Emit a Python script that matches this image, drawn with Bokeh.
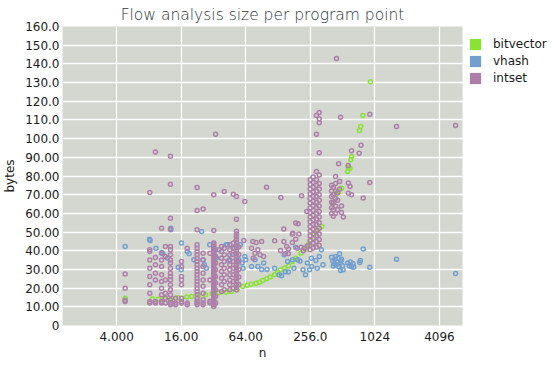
from bokeh.plotting import figure
from bokeh.models import FixedTicker, Legend, LegendItem
from bokeh.embed import file_html
from bokeh.resources import INLINE

title_text = "Flow analysis size per program point"
x_label = "n"
y_label = "bytes"
x_ticks = [4, 16, 64, 256, 1024, 4096]
x_tick_labels = ["4.000", "16.00", "64.00", "256.0", "1024", "4096"]
y_ticks = [0, 10, 20, 30, 40, 50, 60, 70, 80, 90, 100, 110, 120, 130, 140, 150, 160]
y_tick_labels = ["0", "10.00", "20.00", "30.00", "40.00", "50.00", "60.00", "70.00", "80.00",
                 "90.00", "100.0", "110.0", "120.0", "130.0", "140.0", "150.0", "160.0"]

series_names = ["bitvector", "vhash", "intset"]
series_colors = ["#8ae234", "#729fcf", "#ad7fa8"]

bitvector_n = [4.8, 8.6, 9.8, 11.2, 13, 15, 18, 20, 23.5, 27, 31, 36, 42, 47, 53, 60, 66, 72, 80, 86,
               92, 100, 108, 119, 127, 135, 147, 160, 174, 187, 209, 230, 245, 258, 277, 300, 327,
               414, 437, 450, 470, 501, 570, 577, 600, 612, 621, 735, 755, 792, 930]
bitvector_bytes = [14.6, 14.3, 14.2, 14.5, 14.5, 14.9, 15.2, 15.5, 16.2, 16.4, 17.0, 17.5, 17.8, 18.2,
                   19.1, 20.9, 21.5, 22.1, 22.6, 23.2, 24.1, 25.0, 26.0, 27.1, 28.4, 29.8, 30.8, 31.9,
                   34.2, 36.0, 38.7, 40.8, 43.2, 45.8, 48.5, 50.8, 53.0,
                   65.5, 68.2, 70.8, 71.7, 73.5, 82.4, 84.8, 84.2, 88.7, 90.4, 104.3, 106.5, 112.4, 130.4]

vhash_n = [4.8, 8.1, 8.2, 9.3, 10.5, 10.8, 11.9, 12.8, 12.8, 16.1, 15.0, 16.0, 18.2, 19.0, 24.8, 21,
           25.5, 26.3, 27.5, 29.5, 34, 36, 42, 43, 45, 44.5, 48, 50, 55, 57, 59,
           60.4, 62.7, 64, 72.5, 78, 83, 90, 94, 101, 119, 131, 146, 174, 180, 187,
           219, 231, 240, 252, 262, 264, 288, 297, 311, 325, 336, 138, 150, 157, 160, 195, 205,
           404, 415, 425, 435, 445, 455, 465, 480, 495, 510, 420, 440, 470, 500, 518, 480, 490,
           570, 590, 605, 620, 640, 650, 750, 740, 797, 918, 1630, 5790]
vhash_bytes = [42.3, 46.2, 45.5, 41.4, 39.1, 38.4, 36.1, 52.1, 51.2, 44.1, 31.2, 29.8, 39.6, 38.4, 50.3, 35.2,
               35.2, 32.5, 30.7, 43.2, 36.1, 40.5, 43.2, 43.2, 35.2, 34.6, 38.0, 41.5, 35.2, 43.2, 33.4,
               30.7, 36.9, 35.2, 31.6, 35.2, 31.6, 29.9, 33.4, 29.9, 30.7, 27.1, 37.8, 35.2, 30.7, 41.9,
               29.8, 27.1, 33.4, 29.8, 36.0, 31.6, 34.8, 30.7, 36.9, 40.5, 32.5, 26.6, 28.7, 34.2, 28.6, 35.2, 34.5,
               36.5, 34.5, 33.0, 35.5, 32.5, 34.0, 36.0, 33.0, 34.5, 32.0, 31.8, 36.9, 31.6, 35.5, 29.8, 38.4, 29.4,
               33.5, 32.0, 34.0, 31.5, 33.0, 31.2, 34.8, 33.7, 41.0, 31.2, 35.5, 27.8]

# intset: (n, [bytes ...]) columns
intset_columns = [
    (4.8, [12.8, 13.5, 20.0, 27.5]),
    (8.15, [12.0, 12.8, 17.3, 21.8, 26.2, 30.7, 35.1, 39.6, 40.5, 71.2]),
    (9.2, [12.0, 12.8, 24.4, 28.0, 32.5, 36.4, 92.8]),
    (10.5, [12.0, 12.8, 16.4, 20.0, 23.5, 27.1, 31.6, 35.1, 38.7, 52.1]),
    (11.4, [12.0, 14.6, 17.3, 24.4, 36.9, 42.3]),
    (12.7, [11.1, 12.0, 13.8, 16.4, 19.1, 21.8, 24.4, 26.2, 28.0, 30.7, 33.4, 35.1, 37.8, 40.5, 42.3,
            51.7, 57.4, 75.6, 90.6]),
    (14.2, [11.1, 12.0, 14.6]),
    (16.1, [12.0, 12.8, 14.6, 21.8, 24.4, 26.2, 31.6, 34.2]),
    (18.2, [11.1, 12.0, 41.4]),
    (22.5, [11.1, 12.0, 13.0, 14.6, 16.4, 18.2, 20.0, 21.8, 23.5, 25.3, 27.1, 28.9, 30.7, 32.5, 34.2,
            36.0, 37.8, 39.6, 41.4, 43.2, 51.2, 61.5, 73.8]),
    (25.6, [11.1, 12.0, 13.8, 17.3, 21.0, 24.4, 28.0, 31.6, 35.1, 38.7, 62.3]),
    (29.6, [12.0, 13.0, 24.4, 38.7]),
    (32.2, [10.2, 11.1, 12.0, 12.8, 13.8, 14.6, 15.5, 16.4, 17.3, 18.2, 19.1, 20.0, 21.0, 21.8, 22.7,
            23.5, 24.4, 25.3, 26.2, 27.1, 28.0, 28.9, 29.8, 30.7, 31.6, 32.5, 33.4, 34.2, 35.1, 36.0,
            36.9, 37.8, 38.7, 39.6, 40.5, 41.4, 42.3, 43.2, 44.1, 50.8, 69.9]),
    (33.5, [12.0, 15.5, 19.1, 22.7, 26.2, 29.8, 33.4, 37.0, 40.5, 102.4]),
    (38, [18.2, 21.8, 25.3, 28.9, 32.5, 36.0, 39.6, 42.3]),
    (40.3, [19.1, 23.5, 27.1, 30.7, 34.2, 37.8, 41.4, 71.7]),
    (45.4, [19.1, 21.8, 24.4, 27.1, 29.8, 32.5, 35.1, 37.8, 40.5, 43.2]),
    (49, [20.0, 23.5, 27.1, 30.7, 34.2, 38.0, 41.4, 44.1, 70.3]),
    (52.4, [19.1, 20.5, 22.0, 23.5, 25.0, 26.5, 28.0, 29.5, 31.0, 32.5, 34.0, 35.5, 37.0, 38.5, 40.0,
            41.5, 43.0, 44.5, 46.0, 47.5, 49.0, 50.5, 56.9, 69.0]),
    (55, [22.0, 26.0, 30.0, 34.0, 38.0, 42.0]),
    (61.5, [45.5]), (62.7, [66.3]), (72.5, [41.4]), (74.4, [45.0]), (78, [38.7]), (80, [44.4]),
    (83, [40.5]), (87, [37.8]), (90, [45.0]), (94, [36.9]), (75, [36.0]), (100, [74.0]),
    (119, [45.3]), (135, [40.1]), (136, [68.5]), (145, [45.0, 51.7]), (150, [38.4]), (154, [42.3]),
    (160, [40.9, 38.4]), (174, [44.4, 49.0]), (176, [49.4]), (187, [46.2, 54.8]), (193, [41.4]),
    (197, [54.4]), (200, [49.0]), (210, [41.9]), (212, [69.4]), (220, [40.0]), (225, [41.4]),
    (237, [61.0]), (240, [42.6]),
    (255, [40.5, 43.0, 45.5, 48.0, 50.5, 53.0, 55.5, 58.0, 60.5, 63.0, 65.5, 68.0, 70.5, 73.0, 75.5, 78.0]),
    (272, [41.5, 44.0, 46.5, 49.0, 51.5, 54.0, 56.5, 59.0, 61.5, 64.0, 66.5, 69.0, 71.5, 74.0, 76.5, 79.4]),
    (292, [42.0, 45.0, 48.0, 51.0, 54.0, 57.0, 60.0, 63.0, 66.0, 69.0, 72.0, 75.0, 78.0, 82.4, 102.4, 112.4]),
    (310, [43.0, 46.0, 49.0, 52.0, 55.0, 58.0, 61.0, 64.0, 67.0, 70.0, 73.0, 76.0, 80.6, 92.4,
           108.5, 110.6, 114.0]),
    (404, [60.0, 63.0, 66.0, 69.0, 72.0, 75.0]),
    (420, [58.5, 62.0, 65.5, 70.0, 74.0]),
    (440, [60.0, 64.0, 68.0, 72.0, 76.0, 79.7]),
    (449, [142.9]),
    (460, [62.0, 67.0, 71.0]),
    (470, [86.5]),
    (480, [73.0, 77.0]),
    (490, [111.5]),
    (500, [60.5, 64.0]),
    (520, [58.0]),
    (577, [85.6]), (580, [70.8, 76.2]), (600, [74.4]), (620, [69.9, 93.5]), (730, [92.2]), (760, [96.5]),
    (797, [68.2]), (918, [76.5, 113.1]), (1630, [106.5]), (5790, [107.0]),
]

intset_n = []
intset_bytes = []
for n_val, byte_vals in intset_columns:
    for b in byte_vals:
        intset_n.append(n_val)
        intset_bytes.append(b)

series_data = [(bitvector_n, bitvector_bytes), (vhash_n, vhash_bytes), (intset_n, intset_bytes)]

FONT = "DejaVu Sans"

p = figure(frame_width=400, frame_height=299, x_axis_type="log",
           x_range=(1.251, 6720), y_range=(0, 160),
           output_backend="svg", toolbar_location=None,
           min_border_left=0, min_border_right=0, min_border_top=0, min_border_bottom=0,
           background_fill_color="#d3d7cf", border_fill_color="white",
           title=title_text)
p.outline_line_color = None

p.title.text_font = "DejaVu Sans Light, DejaVu Sans"
p.title.text_font_size = "15.5px"
p.title.text_font_style = "normal"
p.title.text_color = "#2e3436"
p.title.align = "center"
p.title.standoff = 6

p.xaxis.ticker = FixedTicker(ticks=x_ticks)
p.xaxis.major_label_overrides = dict(zip(x_ticks, x_tick_labels))
p.yaxis.ticker = FixedTicker(ticks=y_ticks)
p.yaxis.major_label_overrides = dict(zip(y_ticks, y_tick_labels))

for ax in (p.xaxis, p.yaxis):
    ax.axis_line_color = None
    ax.major_tick_line_color = None
    ax.minor_tick_line_color = None
    ax.major_tick_out = 0
    ax.major_tick_in = 0
    ax.major_label_text_font = FONT
    ax.major_label_text_font_size = "12px"
    ax.major_label_text_color = "#1a1a1a"
    ax.axis_label_text_font = FONT
    ax.axis_label_text_font_size = "12px"
    ax.axis_label_text_font_style = "normal"
    ax.axis_label_text_color = "#1a1a1a"

p.xaxis.axis_label = x_label
p.yaxis.axis_label = y_label
p.xaxis.major_label_standoff = 6
p.xaxis.axis_label_standoff = 2
p.yaxis.major_label_standoff = 3
p.yaxis.axis_label_standoff = 5

p.xgrid.grid_line_color = "white"
p.ygrid.grid_line_color = "white"
p.xgrid.grid_line_width = 1.3
p.ygrid.grid_line_width = 1.3
p.xgrid.minor_grid_line_color = None
p.ygrid.minor_grid_line_color = None

for (xs, ys), color in zip(series_data, series_colors):
    p.scatter(xs, ys, marker="circle", size=4, fill_color=None, line_color=color, line_width=1.5)

# legend swatches: hidden zero-size quads (at each series' first point) so the legend draws filled squares
items = []
for name, color, (xs, ys) in zip(series_names, series_colors, series_data):
    r = p.quad(left=xs[:1], right=xs[:1], top=ys[:1], bottom=ys[:1],
               fill_color=color, line_color=None, visible=False)
    items.append(LegendItem(label=name, renderers=[r]))

legend = Legend(items=items, location=(6, 240), orientation="vertical",
                glyph_width=14, glyph_height=14, label_height=14, spacing=3,
                label_standoff=11, padding=8, margin=0,
                label_text_font=FONT, label_text_font_size="12px", label_text_color="#1a1a1a",
                inactive_fill_alpha=0,
                background_fill_alpha=0, border_line_color=None)
p.add_layout(legend, "right")

open("out.html", "w").write(file_html(p, INLINE))
